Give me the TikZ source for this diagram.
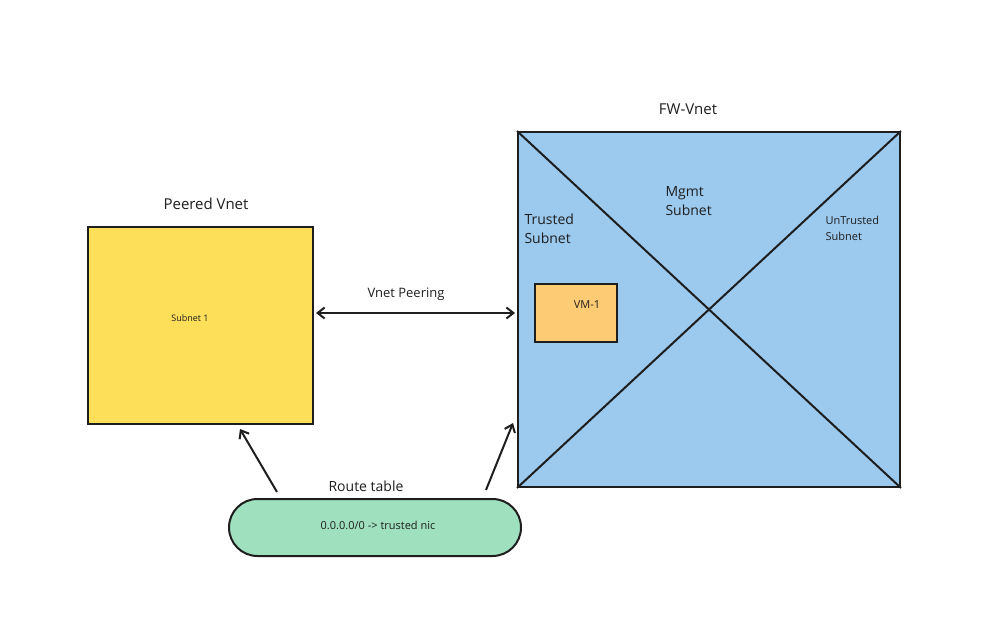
\documentclass[tikz,border=0pt]{standalone}
\usepackage{fontspec}
\setmainfont{Open Sans}
\usetikzlibrary{arrows.meta,shapes.misc}
\definecolor{peer}{HTML}{FDDF5A}
\definecolor{fw}{HTML}{9CC9EE}
\definecolor{vm}{HTML}{FDCB74}
\definecolor{rt}{HTML}{9FE0BE}
\definecolor{ink}{HTML}{1E1E1E}
\tikzset{
  x=1pt,y=-1pt,
  boxst/.style={draw=ink,line width=2pt,inner sep=0pt},
  lbl/.style={text=ink,font=\fontsize{15}{17}\selectfont},
  tip/.style={Straight Barb[length=7pt,width=11pt,line width=2pt]},
  arr/.style={draw=ink,line width=2pt,-{Straight Barb[length=7pt,width=11pt]}},
}
\begin{document}
\begin{tikzpicture}
\useasboundingbox (0,0) rectangle (999,644);
% Peered Vnet
\node[boxst,fill=peer,minimum width=225pt,minimum height=197pt] (peer) at (200.5,325.5) {};
\node[lbl] (peerlbl) at (206,204) {Peered Vnet};
\node[text=ink,font=\fontsize{9}{11}\selectfont] (sub1) at (190,318) {Subnet 1};
% FW Vnet
\node[boxst,fill=fw,minimum width=382pt,minimum height=355pt] (fw) at (709,309.5) {};
\draw[ink,line width=2pt] (fw.north west) -- (fw.south east);
\draw[ink,line width=2pt] (fw.south west) -- (fw.north east);
\node[lbl] (fwlbl) at (688,109) {FW-Vnet};
\node[lbl,anchor=west,align=left,font=\fontsize{14}{19}\selectfont] (trusted) at (521,229) {Trusted\\Subnet};
\node[lbl,anchor=west,align=left,font=\fontsize{14}{19}\selectfont] (mgmt) at (662,201) {Mgmt\\Subnet};
\node[lbl,anchor=west,align=left,font=\fontsize{11}{16}\selectfont] (untrusted) at (822,228) {UnTrusted\\Subnet};
\node[boxst,fill=vm,minimum width=82pt,minimum height=58pt] (vm) at (576,313) {};
\node[text=ink,font=\fontsize{11}{13}\selectfont] (vmlbl) at (587,305) {VM-1};
% Peering
\coordinate (p1) at (316,313);
\coordinate (p2) at (515,313);
\draw[draw=ink,line width=2pt,{Straight Barb[length=7pt,width=11pt]}-{Straight Barb[length=7pt,width=11pt]}] (p1) -- (p2);
\node[lbl,font=\fontsize{13}{15}\selectfont] (peerlab) at (406,294) {Vnet Peering};
% Route table
\node[boxst,fill=rt,rounded rectangle,minimum width=292pt,minimum height=57pt] (rt) at (375,527.5) {};
\node[text=ink,font=\fontsize{11}{13}\selectfont] (rttext) at (378,525) {0.0.0.0/0 -> trusted nic};
\node[lbl,font=\fontsize{14}{16}\selectfont] (rtlbl) at (366,486) {Route table};
\coordinate (a1s) at (277,492);
\coordinate (a1e) at (240,429);
\coordinate (a2s) at (486,490);
\coordinate (a2e) at (513,423);
\draw[arr] (a1s) -- (a1e);
\draw[arr] (a2s) -- (a2e);
\end{tikzpicture}
\end{document}
